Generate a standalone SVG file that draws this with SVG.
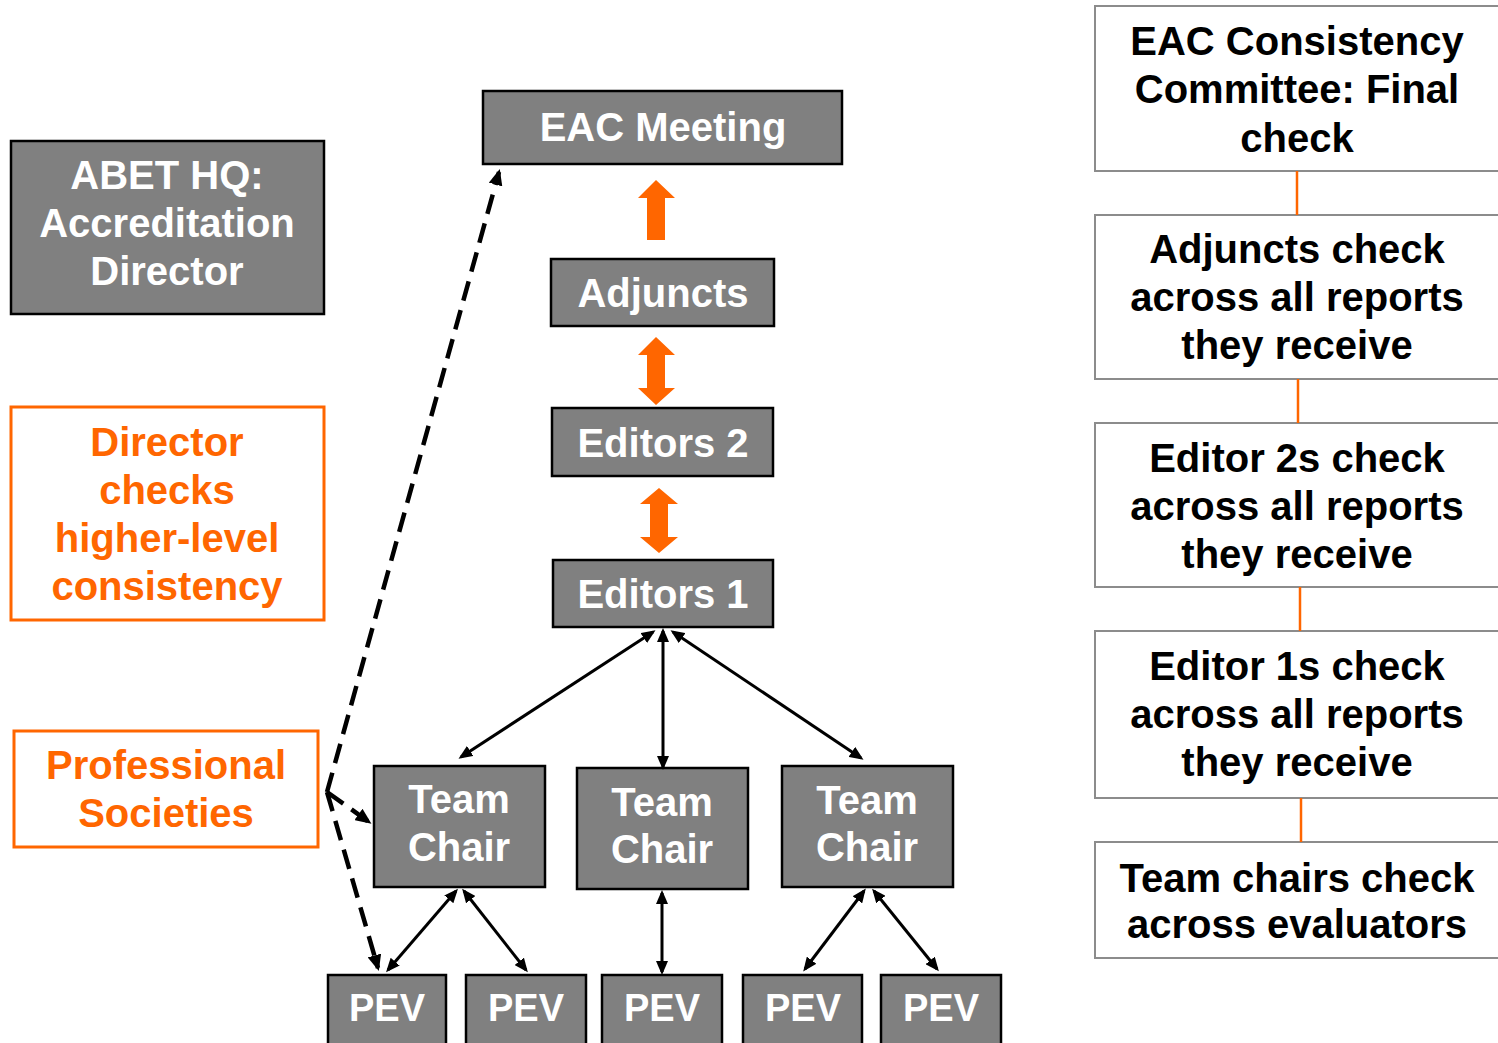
<svg xmlns="http://www.w3.org/2000/svg" width="1498" height="1043" viewBox="0 0 1498 1043">
  <defs>
    <style>
      text { font-family: "Liberation Sans", Arial, sans-serif; font-weight: bold; font-size: 40px; text-anchor: middle; }
      .box { fill: #808080; stroke: #000; stroke-width: 2.5; }
      .wtxt { fill: #ffffff; }
      .obox { fill: #ffffff; stroke: #ff6600; stroke-width: 3; }
      .otxt { fill: #ff6600; }
      .rbox { fill: #ffffff; stroke: #8c8c8c; stroke-width: 2; }
      .btxt { fill: #000000; }
      .link { stroke: #000; stroke-width: 3; fill: none; marker-start: url(#head); marker-end: url(#head); }
      .dash { stroke: #000; stroke-width: 4.5; fill: none; stroke-dasharray: 20 10; marker-end: url(#dhead); }
      .rlink { stroke: #ff6600; stroke-width: 2.5; }
      .oarrow { fill: #ff6600; }
    </style>
    <marker id="head" markerUnits="userSpaceOnUse" markerWidth="14" markerHeight="12" viewBox="0 0 14 12" refX="11" refY="6" orient="auto-start-reverse">
      <path d="M0,0 L14,6 L0,12 z" fill="#000"/>
    </marker>
    <marker id="dhead" markerUnits="userSpaceOnUse" markerWidth="16" markerHeight="14" viewBox="0 0 16 14" refX="13" refY="7" orient="auto">
      <path d="M0,0 L16,7 L0,14 z" fill="#000"/>
    </marker>
  </defs>

  <rect width="1498" height="1043" fill="#ffffff"/>

  <!-- left column -->
  <g id="abet-hq">
    <rect class="box" x="11" y="141" width="313" height="173"/>
    <text class="wtxt" x="167" y="189">ABET HQ:</text>
    <text class="wtxt" x="167" y="237">Accreditation</text>
    <text class="wtxt" x="167" y="285">Director</text>
  </g>
  <g id="director-checks">
    <rect class="obox" x="11" y="407" width="313" height="213"/>
    <text class="otxt" x="167" y="456">Director</text>
    <text class="otxt" x="167" y="504">checks</text>
    <text class="otxt" x="167" y="552">higher-level</text>
    <text class="otxt" x="167" y="600">consistency</text>
  </g>
  <g id="professional-societies">
    <rect class="obox" x="14" y="731" width="304" height="116"/>
    <text class="otxt" x="166" y="779">Professional</text>
    <text class="otxt" x="166" y="827">Societies</text>
  </g>

  <!-- hierarchy -->
  <g id="eac-meeting">
    <rect class="box" x="483" y="91" width="359" height="73"/>
    <text class="wtxt" x="663" y="141">EAC Meeting</text>
  </g>
  <g id="adjuncts">
    <rect class="box" x="551" y="259" width="223" height="67"/>
    <text class="wtxt" x="663" y="307">Adjuncts</text>
  </g>
  <g id="editors-2">
    <rect class="box" x="552" y="408" width="221" height="68"/>
    <text class="wtxt" x="663" y="457">Editors 2</text>
  </g>
  <g id="editors-1">
    <rect class="box" x="553" y="560" width="220" height="67"/>
    <text class="wtxt" x="663" y="608">Editors 1</text>
  </g>
  <g id="team-chair-1">
    <rect class="box" x="374" y="766" width="171" height="121"/>
    <text class="wtxt" x="459" y="813">Team</text>
    <text class="wtxt" x="459" y="861">Chair</text>
  </g>
  <g id="team-chair-2">
    <rect class="box" x="577" y="768" width="171" height="121"/>
    <text class="wtxt" x="662" y="816">Team</text>
    <text class="wtxt" x="662" y="863">Chair</text>
  </g>
  <g id="team-chair-3">
    <rect class="box" x="782" y="766" width="171" height="121"/>
    <text class="wtxt" x="867" y="814">Team</text>
    <text class="wtxt" x="867" y="861">Chair</text>
  </g>
  <g id="pev-1">
    <rect class="box" x="328" y="975" width="118" height="80"/>
    <text class="wtxt" x="387" y="1021" style="font-size:38px">PEV</text>
  </g>
  <g id="pev-2">
    <rect class="box" x="466" y="975" width="120" height="80"/>
    <text class="wtxt" x="526" y="1021" style="font-size:38px">PEV</text>
  </g>
  <g id="pev-3">
    <rect class="box" x="602" y="975" width="120" height="80"/>
    <text class="wtxt" x="662" y="1021" style="font-size:38px">PEV</text>
  </g>
  <g id="pev-4">
    <rect class="box" x="743" y="975" width="119" height="80"/>
    <text class="wtxt" x="803" y="1021" style="font-size:38px">PEV</text>
  </g>
  <g id="pev-5">
    <rect class="box" x="881" y="975" width="120" height="80"/>
    <text class="wtxt" x="941" y="1021" style="font-size:38px">PEV</text>
  </g>

  <!-- right column -->
  <g id="check-committee">
    <rect class="rbox" x="1095" y="6" width="420" height="165"/>
    <text class="btxt" x="1297" y="55">EAC Consistency</text>
    <text class="btxt" x="1297" y="103">Committee: Final</text>
    <text class="btxt" x="1297" y="152">check</text>
  </g>
  <g id="check-adjuncts">
    <rect class="rbox" x="1095" y="215" width="420" height="164"/>
    <text class="btxt" x="1297" y="263">Adjuncts check</text>
    <text class="btxt" x="1297" y="311">across all reports</text>
    <text class="btxt" x="1297" y="359">they receive</text>
  </g>
  <g id="check-editors-2">
    <rect class="rbox" x="1095" y="423" width="420" height="164"/>
    <text class="btxt" x="1297" y="472">Editor 2s check</text>
    <text class="btxt" x="1297" y="520">across all reports</text>
    <text class="btxt" x="1297" y="568">they receive</text>
  </g>
  <g id="check-editors-1">
    <rect class="rbox" x="1095" y="631" width="420" height="167"/>
    <text class="btxt" x="1297" y="680">Editor 1s check</text>
    <text class="btxt" x="1297" y="728">across all reports</text>
    <text class="btxt" x="1297" y="776">they receive</text>
  </g>
  <g id="check-team-chairs">
    <rect class="rbox" x="1095" y="842" width="420" height="116"/>
    <text class="btxt" x="1297" y="892">Team chairs check</text>
    <text class="btxt" x="1297" y="938">across evaluators</text>
  </g>

  <!-- connectors -->
  <g id="connectors">
    <!-- orange block arrows between levels -->
    <polygon class="oarrow" points="656,180 675,198 665,198 665,240 647,240 647,198 638,198"/>
    <polygon class="oarrow" points="656,337 675,355 665,355 665,388 675,388 656,405 638,388 647,388 647,355 638,355"/>
    <polygon class="oarrow" points="659,488 678,504 668,504 668,537 678,537 659,553 640,537 650,537 650,504 640,504"/>

    <!-- Editors 1 to team chairs -->
    <line class="link" x1="653" y1="632" x2="461" y2="757"/>
    <line class="link" x1="663" y1="631" x2="663" y2="767"/>
    <line class="link" x1="673" y1="632" x2="861" y2="758"/>

    <!-- team chairs to PEVs -->
    <line class="link" x1="456" y1="891" x2="388" y2="970"/>
    <line class="link" x1="464" y1="891" x2="526" y2="970"/>
    <line class="link" x1="662" y1="893" x2="662" y2="972"/>
    <line class="link" x1="864" y1="891" x2="805" y2="969"/>
    <line class="link" x1="874" y1="891" x2="937" y2="969"/>

    <!-- professional societies links -->
    <line class="dash" x1="327" y1="792" x2="499" y2="172"/>
    <line class="dash" x1="327" y1="792" x2="369" y2="822"/>
    <line class="dash" x1="327" y1="792" x2="378" y2="968"/>

    <!-- right column links -->
    <line class="rlink" x1="1297" y1="171" x2="1297" y2="215"/>
    <line class="rlink" x1="1298" y1="379" x2="1298" y2="423"/>
    <line class="rlink" x1="1300" y1="587" x2="1300" y2="631"/>
    <line class="rlink" x1="1301" y1="798" x2="1301" y2="842"/>
  </g>
</svg>
